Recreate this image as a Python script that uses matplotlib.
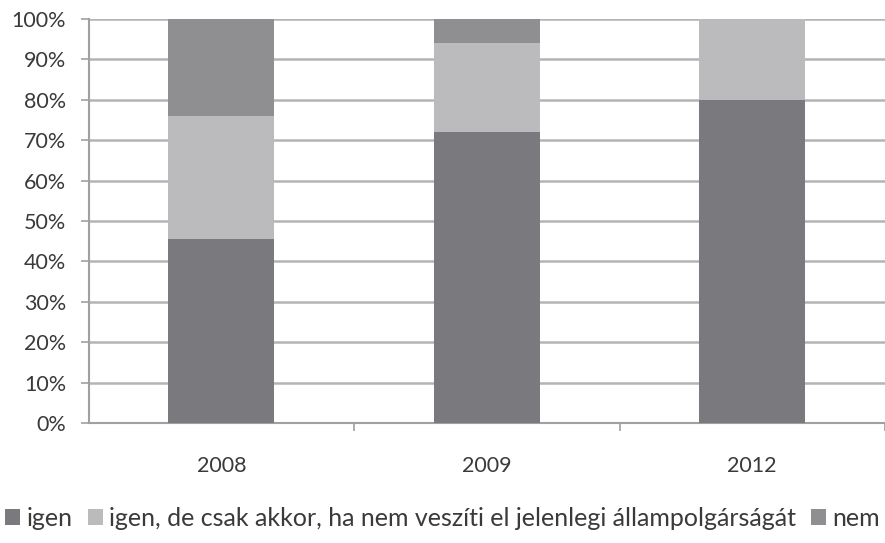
import numpy as np
import matplotlib.pyplot as plt
from matplotlib.ticker import FuncFormatter

plt.rcParams['font.family'] = ['Lato', 'DejaVu Sans']

evek = ['2008', '2009', '2012']
igen = [45.5, 72, 80]
igen_de = [30.5, 22, 20]
nem = [24, 6, 0]
cimkek = ['igen', 'igen, de csak akkor, ha nem veszíti el jelenlegi állampolgárságát', 'nem']
szinek = ['#7a7a7e', '#bbbbbe', '#8f8f92']

fig = plt.figure(figsize=(8.85, 5.43), dpi=100)
ax = fig.add_axes([0.1, 0.221, 0.9, 0.744])

x = np.arange(len(evek))
also = np.zeros(len(evek))
for ertek, szin, cimke in zip([igen, igen_de, nem], szinek, cimkek):
    ax.bar(x, ertek, 0.4, bottom=also, color=szin, label=cimke, zorder=3)
    also += np.array(ertek)

ax.set_ylim(0, 100)
ax.set_xlim(-0.5, 2.5)
ax.set_yticks(range(0, 101, 10))
ax.yaxis.set_major_formatter(FuncFormatter(lambda v, p: '%d%%' % v))
ax.grid(axis='y', color='#b4b4b6', linewidth=1.8, zorder=0)

ax.set_xticks(x)
ax.set_xticklabels(evek)
ax.set_xticks([0.5, 1.5, 2.5], minor=True)
ax.tick_params(axis='x', which='major', length=0, pad=24)
ax.tick_params(axis='x', which='minor', length=6, color='#a0a0a2', width=1.2)
ax.tick_params(axis='y', length=6, color='#a0a0a2', width=1.2, pad=10)
ax.tick_params(labelsize=15.5, labelcolor='#3a3a3a')

for s in ['top', 'right']:
    ax.spines[s].set_visible(False)
for s in ['left', 'bottom']:
    ax.spines[s].set_color('#a0a0a2')
    ax.spines[s].set_linewidth(1.5)

fig.legend(loc='center', bbox_to_anchor=(0.5, 0.045), ncol=3, frameon=False,
           fontsize=18, handlelength=0.6, handleheight=0.6, handletextpad=0.25,
           columnspacing=0.6, labelcolor='#3a3a3a')

plt.savefig('out.png', dpi=100)
